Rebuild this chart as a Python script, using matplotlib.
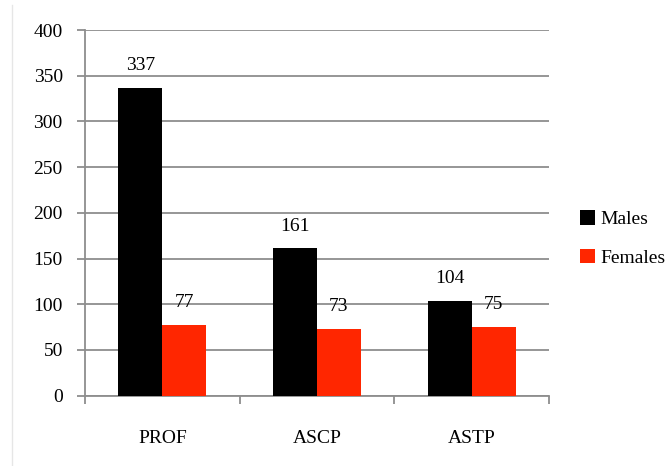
import matplotlib
matplotlib.use("Agg")
import matplotlib.pyplot as plt
from matplotlib.patches import Patch
from matplotlib.lines import Line2D
import numpy as np

ranks = ["PROF", "ASCP", "ASTP"]
males = [337, 161, 104]
females = [77, 73, 75]
series_names = ["Males", "Females"]
yticks = [0, 50, 100, 150, 200, 250, 300, 350, 400]

black = "#000000"
red = "#ff2600"
grid_grey = "#8e8e8e"

plt.rcParams["font.family"] = ["Liberation Serif", "DejaVu Serif"]
plt.rcParams["font.size"] = 14

fig = plt.figure(figsize=(6.67, 4.66), dpi=100)
ax = fig.add_axes([0.1274, 0.151, 0.6956, 0.7846])

x = np.arange(len(ranks))
w = 0.285
b1 = ax.bar(x - w / 2, males, w, color=black, zorder=3)
b2 = ax.bar(x + w / 2, females, w, color=red, zorder=3)

for bars, vals in ((b1, males), (b2, females)):
    for rect, v in zip(bars, vals):
        ax.annotate(str(v), (rect.get_x() + rect.get_width() / 2, v),
                    xytext=(0, 10), textcoords="offset points",
                    ha="center", va="bottom", fontsize=14)

ax.set_xlim(-0.5, len(ranks) - 0.5)
ax.set_ylim(0, 400)
ax.set_yticks(yticks)
ax.yaxis.grid(True, color=grid_grey, linewidth=1.3, zorder=0)

# category boundaries carry the x tick marks, labels sit in between
ax.set_xticks(np.arange(len(ranks) + 1) - 0.5)
ax.set_xticklabels([])
ax.set_xticks(x, minor=True)
ax.set_xticklabels(ranks, minor=True)
ax.tick_params(axis="x", which="minor", length=0, pad=25)
ax.tick_params(axis="x", which="major", length=6, width=1.3, color=grid_grey)
ax.tick_params(axis="y", length=6, width=1.3, color=grid_grey, pad=10)

for side in ("top", "right"):
    ax.spines[side].set_visible(False)
for side in ("left", "bottom"):
    ax.spines[side].set_color(grid_grey)
    ax.spines[side].set_linewidth(1.3)

handles = [Patch(facecolor=black), Patch(facecolor=red)]
fig.legend(handles, series_names, loc="center left",
           bbox_to_anchor=(0.858, 0.488), frameon=False,
           handlelength=0.75, handleheight=0.75, handletextpad=0.3,
           labelspacing=1.05, borderaxespad=0, fontsize=14)

# faint slide edge on the left
fig.add_artist(Line2D([0.018, 0.018], [0.0, 0.99], color="#e6e6e6",
                      linewidth=1, transform=fig.transFigure))

fig.savefig("out.png", dpi=100)
